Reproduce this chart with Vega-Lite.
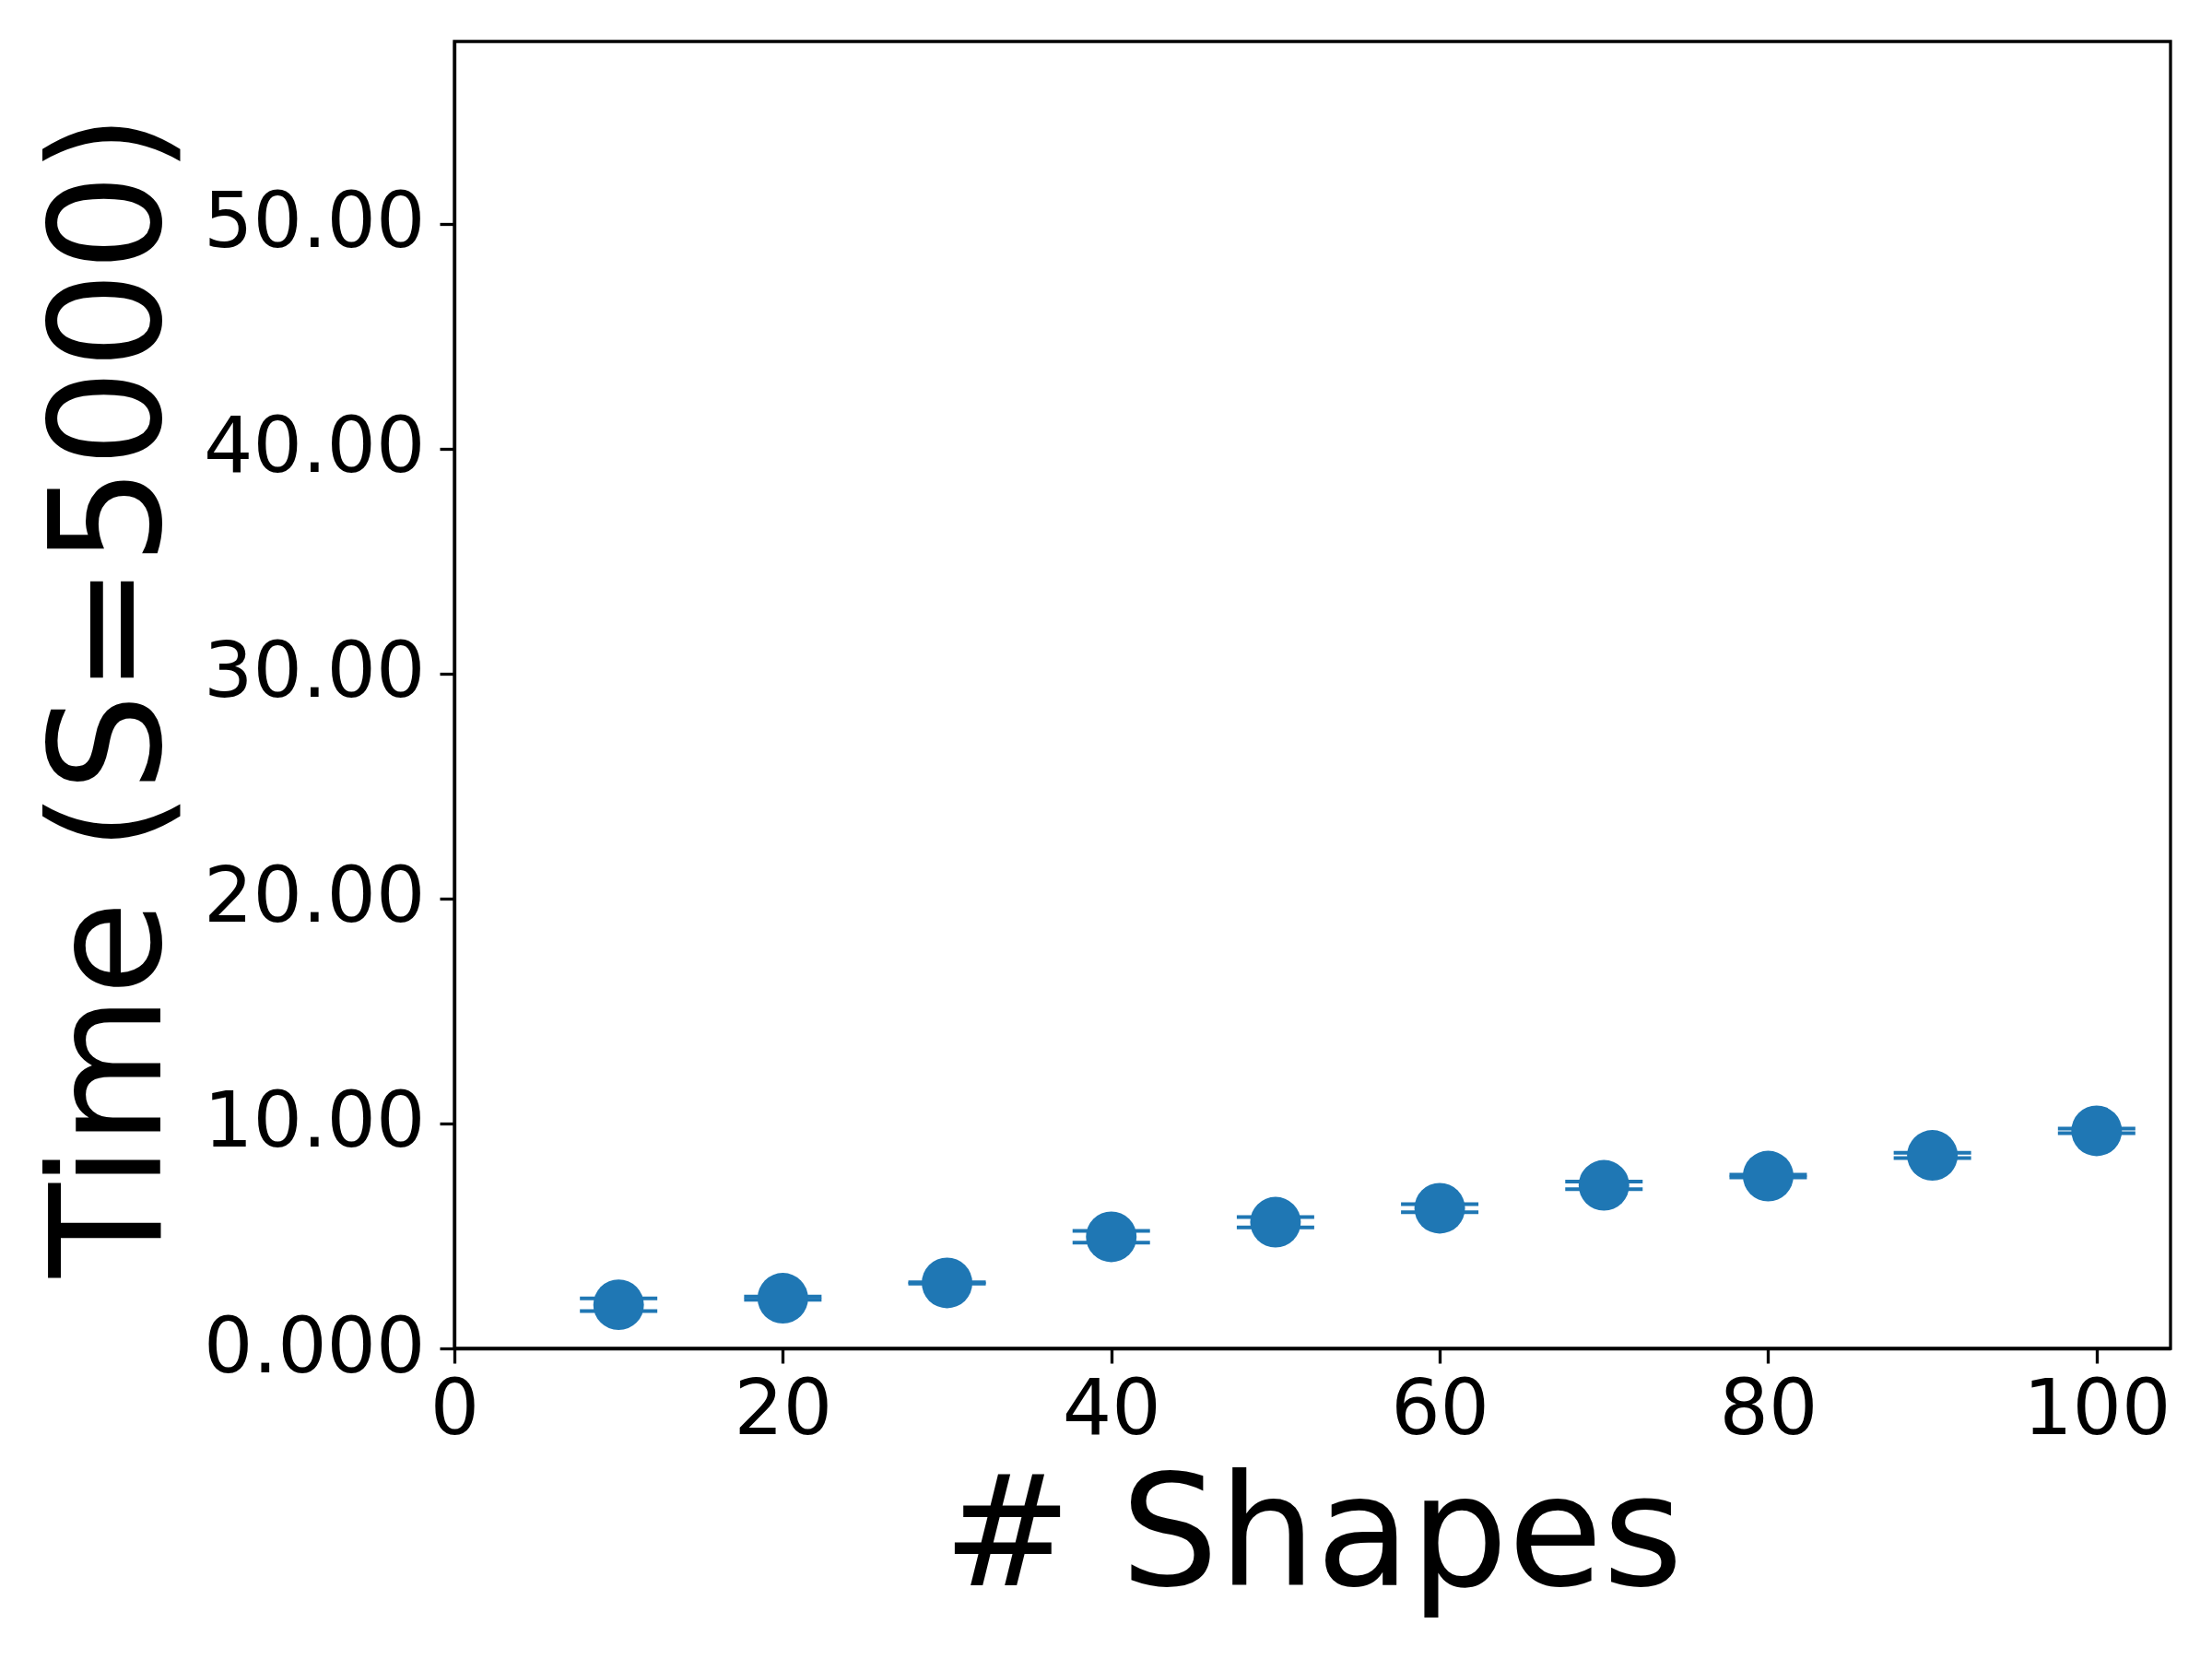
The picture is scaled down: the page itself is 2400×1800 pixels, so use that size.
{
  "$schema": "https://vega.github.io/schema/vega-lite/v6.json",
  "width": 1862,
  "height": 1418,
  "autosize": {"type": "none"},
  "padding": {"left": 493, "top": 45, "right": 45, "bottom": 337},
  "background": "white",
  "config": {
    "view": {"stroke": "black", "strokeWidth": 3.3},
    "font": "DejaVu Sans",
    "axis": {
      "grid": false,
      "domainColor": "black",
      "domainWidth": 3.3,
      "tickColor": "black",
      "tickWidth": 3.3,
      "tickSize": 16,
      "labelFont": "DejaVu Sans",
      "labelFontSize": 84,
      "labelColor": "black",
      "labelLimit": 0,
      "titleFont": "DejaVu Sans",
      "titleFontSize": 167,
      "titleFontWeight": "normal",
      "titleColor": "black"
    }
  },
  "data": {
    "values": [
      {"shapes": 10, "time": 1.94, "lo": 1.66, "hi": 2.22},
      {"shapes": 20, "time": 2.23, "lo": 2.16, "hi": 2.30},
      {"shapes": 30, "time": 2.91, "lo": 2.88, "hi": 2.94},
      {"shapes": 40, "time": 4.96, "lo": 4.70, "hi": 5.22},
      {"shapes": 50, "time": 5.61, "lo": 5.38, "hi": 5.84},
      {"shapes": 60, "time": 6.23, "lo": 6.05, "hi": 6.41},
      {"shapes": 70, "time": 7.25, "lo": 7.08, "hi": 7.42},
      {"shapes": 80, "time": 7.66, "lo": 7.60, "hi": 7.72},
      {"shapes": 90, "time": 8.58, "lo": 8.46, "hi": 8.70},
      {"shapes": 100, "time": 9.67, "lo": 9.57, "hi": 9.77}
    ]
  },
  "encoding": {
    "x": {
      "field": "shapes",
      "type": "quantitative",
      "scale": {"domain": [0, 104.5], "nice": false, "zero": false},
      "axis": {
        "title": "# Shapes",
        "values": [0, 20, 40, 60, 80, 100],
        "labelPadding": 10,
        "labelFlush": false,
        "labelOverlap": false,
        "titleY": 256,
        "titleBaseline": "alphabetic"
      }
    }
  },
  "layer": [
    {
      "mark": {"type": "rule", "color": "#1f77b4", "strokeWidth": 4},
      "encoding": {
        "y": {"field": "lo", "type": "quantitative"},
        "y2": {"field": "hi"}
      }
    },
    {
      "mark": {"type": "tick", "orient": "horizontal", "color": "#1f77b4", "size": 84, "thickness": 4, "opacity": 1},
      "encoding": {
        "y": {"field": "lo", "type": "quantitative"}
      }
    },
    {
      "mark": {"type": "tick", "orient": "horizontal", "color": "#1f77b4", "size": 84, "thickness": 4, "opacity": 1},
      "encoding": {
        "y": {"field": "hi", "type": "quantitative"}
      }
    },
    {
      "mark": {"type": "circle", "color": "#1f77b4", "size": 3019, "opacity": 1},
      "encoding": {
        "y": {
          "field": "time",
          "type": "quantitative",
          "scale": {"domain": [0, 58.1], "nice": false, "zero": false},
          "axis": {
            "title": "Time (S=5000)",
            "values": [0, 10, 20, 30, 40, 50],
            "labelExpr": "datum.value == 0 ? '0.000' : format(datum.value, '.2f')",
            "labelPadding": 16,
            "labelFlush": false,
            "labelOverlap": false,
            "titleX": -320,
            "titleBaseline": "alphabetic",
            "titleAngle": -90
          }
        }
      }
    }
  ]
}
